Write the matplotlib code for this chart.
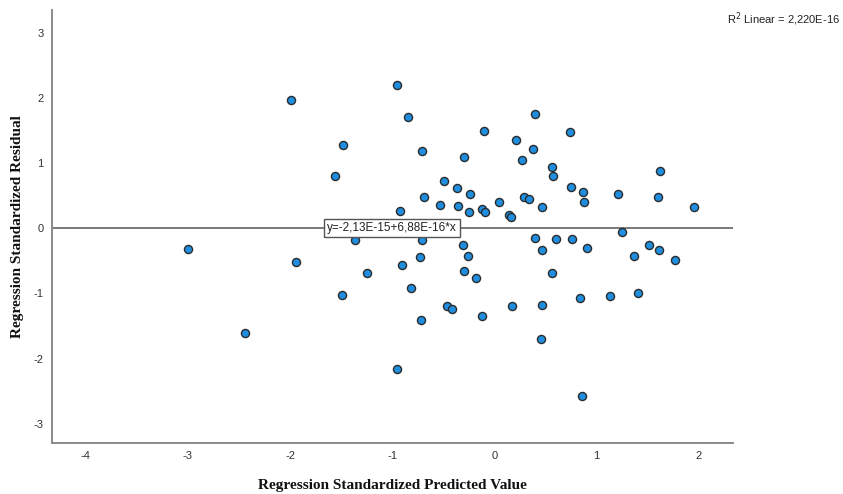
import numpy as np
import matplotlib
matplotlib.use("Agg")
import matplotlib.pyplot as plt

plt.rcParams["axes.unicode_minus"] = False

# standardized predicted values (x) and standardized residuals (y)
pred = [-3.00, -2.44, -1.99, -1.94, -1.56, -1.48, -1.49, -1.36, -1.25, -0.95,
        -0.95, -0.92, -0.905, -0.85, -0.82, -0.73, -0.72, -0.71, -0.71, -0.69,
        -0.53, -0.49, -0.465, -0.41, -0.37, -0.36, -0.30, -0.31, -0.30, -0.26,
        -0.25, -0.24, -0.18, -0.125, -0.12, -0.10, -0.09, 0.05, 0.14, 0.16,
        0.17, 0.21, 0.27, 0.29, 0.335, 0.38, 0.40, 0.40, 0.46, 0.47,
        0.47, 0.47, 0.56, 0.57, 0.56, 0.60, 0.74, 0.75, 0.76, 0.84,
        0.86, 0.87, 0.88, 0.91, 1.13, 1.21, 1.25, 1.37, 1.41, 1.51,
        1.60, 1.61, 1.62, 1.77, 1.95]
resid = [-0.32, -1.60, 1.97, -0.52, 0.80, 1.27, -1.03, -0.18, -0.69, 2.19,
         -2.16, 0.27, -0.56, 1.70, -0.91, -0.44, -1.40, 1.18, -0.18, 0.48,
         0.36, 0.73, -1.20, -1.24, 0.62, 0.34, 1.10, -0.25, -0.66, -0.42,
         0.25, 0.52, -0.76, -1.35, 0.29, 1.49, 0.25, 0.41, 0.20, 0.18,
         -1.19, 1.36, 1.05, 0.48, 0.45, 1.22, 1.75, -0.15, -1.70, 0.33,
         -0.33, -1.17, 0.94, 0.80, -0.69, -0.17, 1.47, 0.64, -0.17, -1.07,
         -2.58, 0.55, 0.40, -0.30, -1.04, 0.53, -0.05, -0.42, -0.99, -0.26,
         0.48, -0.33, 0.88, -0.48, 0.33]

intercept = -2.13e-15
slope = 6.88e-16
fit_label = "y=-2,13E-15+6,88E-16*x"
r2_label = "R$^2$ Linear = 2,220E-16"

xticks = [-4, -3, -2, -1, 0, 1, 2]
yticks = [-3, -2, -1, 0, 1, 2, 3]

fig = plt.figure(figsize=(8.43, 4.94), dpi=100)
ax = fig.add_axes([0.0617, 0.1038, 0.8083, 0.8762])

xlo, xhi = -4.33, 2.34
ax.set_xlim(xlo, xhi)
ax.set_ylim(-3.29, 3.35)

# fit line
xs = np.array([xlo, xhi])
ax.plot(xs, intercept + slope * xs, color="#6e6e6e", lw=1.3, zorder=1)

ax.scatter(pred, resid, s=34, color="#1f8ee0", edgecolors="#2b2b2b",
           linewidths=1.0, zorder=3)

ax.text(-1.0, intercept, fit_label, ha="center", va="center", fontsize=8.5,
        family="Liberation Sans", color="#222222", zorder=4,
        bbox=dict(boxstyle="square,pad=0.25", fc="white", ec="#555555", lw=1.0))

for side in ["top", "right"]:
    ax.spines[side].set_visible(False)
for side in ["left", "bottom"]:
    ax.spines[side].set_color("#8a8a8a")
    ax.spines[side].set_linewidth(1.4)

ax.set_xticks(xticks)
ax.set_yticks(yticks)
ax.tick_params(length=0, labelsize=8, labelcolor="#333333")
ax.tick_params(axis="x", pad=6)
ax.tick_params(axis="y", pad=6)
for lab in ax.get_xticklabels() + ax.get_yticklabels():
    lab.set_family("Liberation Sans")

ax.set_xlabel("Regression Standardized Predicted Value", family="Liberation Serif",
              fontweight="bold", fontsize=11, labelpad=13, color="#111111")
ax.set_ylabel("Regression Standardized Residual", family="Liberation Serif",
              fontweight="bold", fontsize=11, labelpad=7, color="#111111")

fig.text(0.997, 0.962, r2_label, ha="right", va="center", fontsize=8,
         family="Liberation Sans", color="#222222")

fig.savefig("out.png", dpi=100)
